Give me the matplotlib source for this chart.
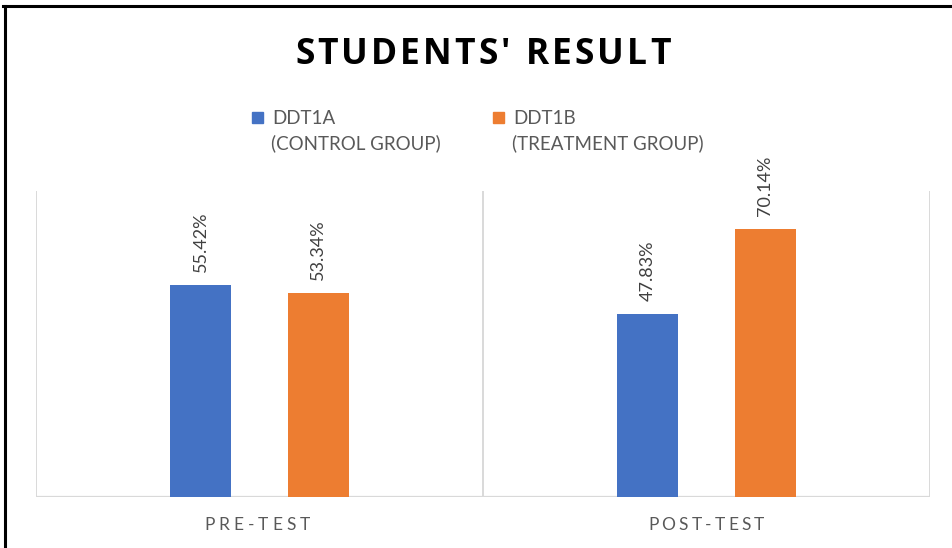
import matplotlib
matplotlib.use("Agg")
import matplotlib.pyplot as plt
from matplotlib.patches import Rectangle
from matplotlib.lines import Line2D
import numpy as np

categories = ["PRE-TEST", "POST-TEST"]
series_names = ["DDT1A\n(CONTROL GROUP)", "DDT1B\n(TREATMENT GROUP)"]
ddt1a = [55.42, 47.83]
ddt1b = [53.34, 70.14]
colors = ["#4472C4", "#ED7D31"]

W, H = 952, 548
fig = plt.figure(figsize=(W / 100, H / 100), dpi=100)
fig.patch.set_facecolor("white")

def fx(px):
    return px / W

def fy(py):
    return 1 - py / H

ax = fig.add_axes([fx(36), fy(497), fx(930) - fx(36), fy(191.4) - fy(497)])
ax.set_xlim(-0.5, 1.5)
ax.set_ylim(0, 80)
for s in ax.spines.values():
    s.set_visible(False)
ax.set_xticks([])
ax.set_yticks([])

grid_c = "#d9d9d9"
for xv in [-0.5, 0.5, 1.5]:
    ax.axvline(xv, color=grid_c, lw=1.4, zorder=0)
ax.axhline(0, color=grid_c, lw=1.6, zorder=1)

x = np.arange(len(categories))
off, bw = 0.131, 0.1365
for vals, dx, col in [(ddt1a, -off, colors[0]), (ddt1b, off, colors[1])]:
    bars = ax.bar(x + dx, vals, width=bw, color=col, zorder=2)
    for b, v in zip(bars, vals):
        ax.annotate(f"{v:.2f}%", (b.get_x() + b.get_width() / 2, v),
                    xytext=(0, 9.5), textcoords="offset points",
                    rotation=90, ha="center", va="bottom",
                    fontsize=13, family="Lato", color="#404040")

renderer = fig.canvas.get_renderer()

def text_w(s, prop):
    w1, _, _ = renderer.get_text_width_height_descent("|" + s + "|", prop, ismath=False)
    w0, _, _ = renderer.get_text_width_height_descent("||", prop, ismath=False)
    return w1 - w0

def spaced_text(cx_px, base_py, s, spacing_px, **kw):
    t = fig.text(0, 0, "x", **kw)
    prop = t.get_fontproperties()
    t.remove()
    total = text_w(s, prop) + spacing_px * (len(s) - 1)
    x0 = cx_px - total / 2
    for i, ch in enumerate(s):
        xp = x0 + text_w(s[:i], prop) + spacing_px * i
        fig.text(fx(xp), fy(base_py), ch, ha="left", va="baseline", **kw)

def spaced_text_target(cx_px, base_py, s, target_w, **kw):
    t = fig.text(0, 0, "x", **kw)
    prop = t.get_fontproperties()
    t.remove()
    nat = text_w(s, prop)
    sp = (target_w - nat) / (len(s) - 1)
    spaced_text(cx_px, base_py, s, sp, **kw)

# title
spaced_text_target(482.5, 64, "STUDENTS' RESULT", 375,
                   fontsize=25.5, family="Open Sans", fontweight="bold", color="black")

# category labels
cat_centers = [257, 706]
for c, lab in zip(cat_centers, categories):
    spaced_text_target(c, 530, lab, 105 if lab == "PRE-TEST" else 116,
                       fontsize=12.5, family="Lato", color="#595959")

# legend
leg_sq = [252, 493]
for sx, name, col in zip(leg_sq, series_names, colors):
    fig.patches.append(Rectangle((fx(sx), fy(123)), fx(11), 11 / H,
                                 transform=fig.transFigure, color=col))
    l1, l2 = name.split("\n")
    fig.text(fx(sx + 20), fy(124), l1, ha="left", va="baseline",
             fontsize=13.5, family="Lato", color="#595959")
    fig.text(fx(sx + 19), fy(149), l2, ha="left", va="baseline",
             fontsize=13.5, family="Lato", color="#595959")

# outer border (partially visible)
fig.add_artist(Line2D([fx(4.5), fx(4.5)], [0, fy(6)], transform=fig.transFigure,
                      color="black", lw=2.2))
fig.add_artist(Line2D([fx(3.4), 1], [fy(6), fy(6)], transform=fig.transFigure,
                      color="black", lw=2.2))

fig.savefig("out.png", dpi=100, facecolor="white")
